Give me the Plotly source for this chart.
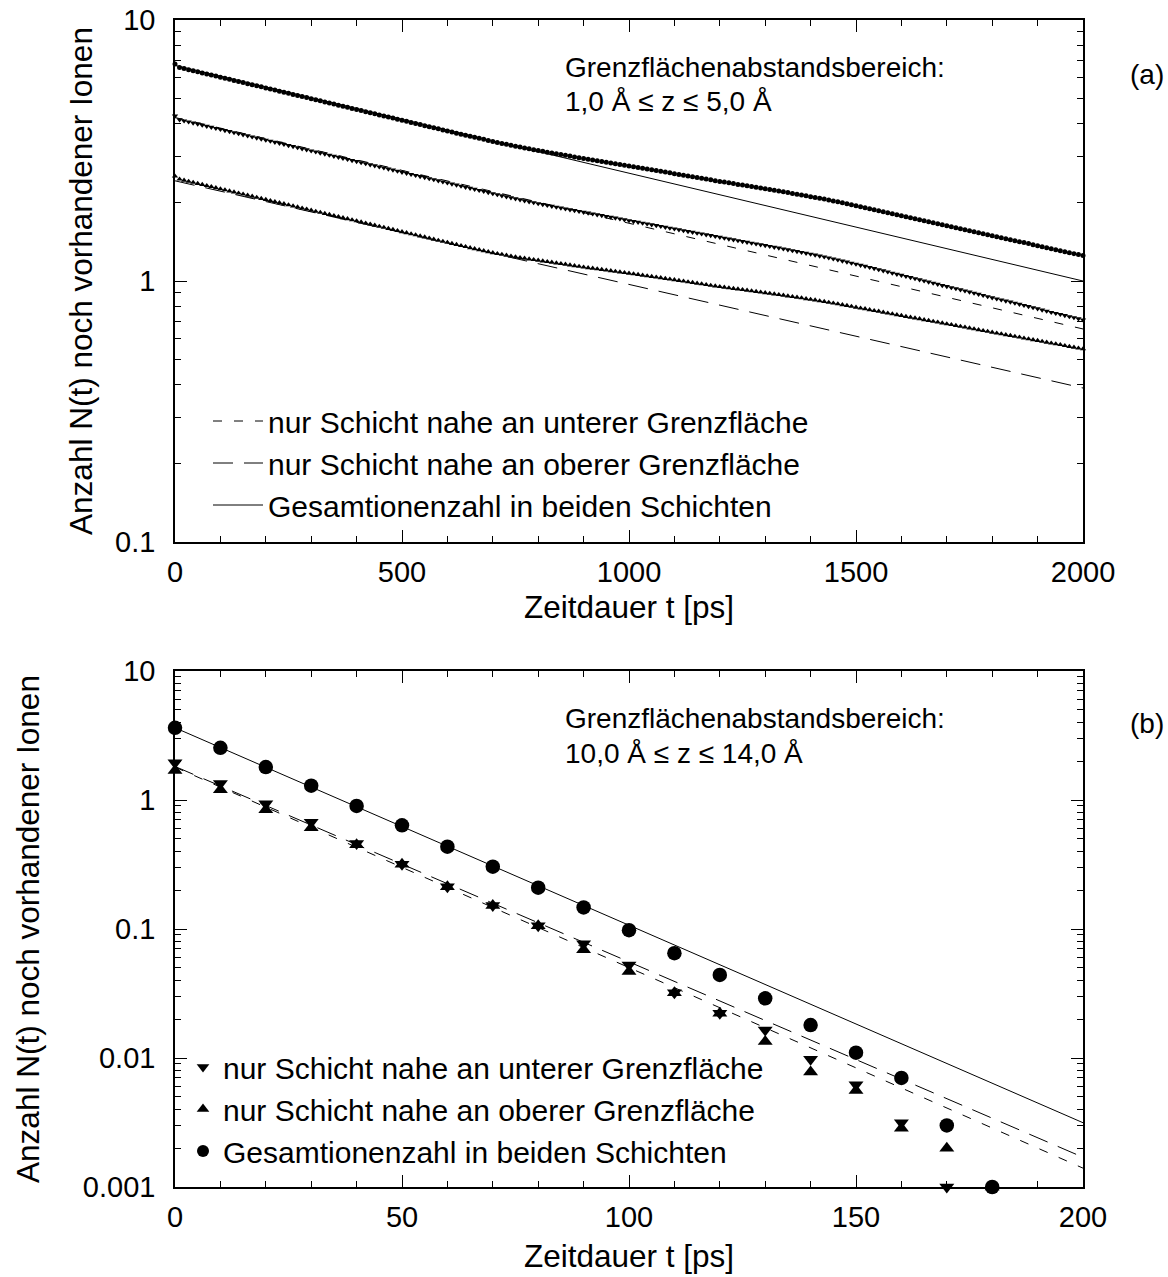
import plotly.graph_objects as go

# ---------------- data: panel (a) ----------------
t_top = list(range(0, 2001, 10))

n_total_top = [
    6.79, 6.577, 6.515, 6.453, 6.392, 6.332, 6.272, 6.213, 6.154, 6.096,
    6.038, 5.981, 5.924, 5.868, 5.813, 5.758, 5.704, 5.650, 5.597, 5.544,
    5.492, 5.440, 5.389, 5.338, 5.287, 5.237, 5.188, 5.139, 5.090, 5.042,
    4.994, 4.947, 4.900, 4.854, 4.808, 4.762, 4.717, 4.672, 4.628, 4.584,
    4.541, 4.498, 4.455, 4.413, 4.371, 4.330, 4.289, 4.248, 4.208, 4.168,
    4.129, 4.090, 4.051, 4.013, 3.975, 3.937, 3.900, 3.863, 3.827, 3.791,
    3.755, 3.719, 3.684, 3.649, 3.614, 3.582, 3.554, 3.521, 3.489, 3.457,
    3.425, 3.396, 3.367, 3.338, 3.310, 3.284, 3.258, 3.232, 3.209, 3.186,
    3.162, 3.139, 3.117, 3.094, 3.073, 3.052, 3.031, 3.010, 2.989, 2.968,
    2.947, 2.928, 2.909, 2.891, 2.872, 2.853, 2.834, 2.815, 2.796, 2.777,
    2.758, 2.739, 2.722, 2.704, 2.686, 2.668, 2.650, 2.632, 2.614, 2.596,
    2.578, 2.561, 2.543, 2.526, 2.509, 2.492, 2.475, 2.458, 2.441, 2.424,
    2.408, 2.393, 2.377, 2.361, 2.345, 2.330, 2.315, 2.300, 2.285, 2.270,
    2.255, 2.240, 2.226, 2.211, 2.196, 2.181, 2.166, 2.151, 2.136, 2.120,
    2.105, 2.090, 2.074, 2.060, 2.043, 2.026, 2.010, 1.993, 1.976, 1.959,
    1.942, 1.925, 1.909, 1.893, 1.876, 1.860, 1.843, 1.826, 1.810, 1.793,
    1.778, 1.762, 1.747, 1.733, 1.718, 1.702, 1.687, 1.672, 1.657, 1.642,
    1.628, 1.614, 1.600, 1.586, 1.573, 1.559, 1.545, 1.531, 1.517, 1.504,
    1.490, 1.477, 1.465, 1.452, 1.440, 1.427, 1.415, 1.403, 1.391, 1.378,
    1.366, 1.354, 1.341, 1.329, 1.318, 1.307, 1.295, 1.284, 1.273, 1.262,
    1.251]

n_lower_top = [
    4.29, 4.149, 4.110, 4.071, 4.033, 3.995, 3.957, 3.920, 3.883, 3.847,
    3.811, 3.775, 3.740, 3.705, 3.670, 3.636, 3.602, 3.568, 3.534, 3.501,
    3.468, 3.435, 3.403, 3.371, 3.339, 3.308, 3.277, 3.246, 3.215, 3.185,
    3.155, 3.125, 3.096, 3.067, 3.038, 3.009, 2.981, 2.953, 2.925, 2.898,
    2.871, 2.844, 2.817, 2.791, 2.765, 2.739, 2.713, 2.688, 2.663, 2.638,
    2.613, 2.588, 2.564, 2.540, 2.516, 2.492, 2.469, 2.446, 2.423, 2.400,
    2.377, 2.355, 2.333, 2.311, 2.289, 2.268, 2.247, 2.226, 2.205, 2.184,
    2.163, 2.143, 2.123, 2.104, 2.085, 2.067, 2.049, 2.031, 2.014, 1.998,
    1.981, 1.965, 1.950, 1.934, 1.920, 1.905, 1.891, 1.877, 1.863, 1.849,
    1.835, 1.822, 1.809, 1.796, 1.783, 1.770, 1.757, 1.744, 1.731, 1.718,
    1.705, 1.692, 1.680, 1.668, 1.656, 1.644, 1.632, 1.620, 1.608, 1.596,
    1.584, 1.572, 1.560, 1.549, 1.538, 1.527, 1.516, 1.505, 1.494, 1.483,
    1.472, 1.461, 1.450, 1.439, 1.428, 1.418, 1.408, 1.398, 1.388, 1.378,
    1.368, 1.358, 1.348, 1.338, 1.328, 1.318, 1.308, 1.298, 1.288, 1.278,
    1.268, 1.258, 1.248, 1.238, 1.227, 1.216, 1.205, 1.194, 1.183, 1.172,
    1.161, 1.150, 1.139, 1.128, 1.117, 1.106, 1.095, 1.084, 1.073, 1.062,
    1.052, 1.042, 1.032, 1.022, 1.012, 1.002, 0.992, 0.982, 0.972, 0.962,
    0.953, 0.944, 0.935, 0.926, 0.917, 0.908, 0.899, 0.890, 0.881, 0.872,
    0.863, 0.855, 0.847, 0.839, 0.831, 0.823, 0.815, 0.807, 0.799, 0.791,
    0.783, 0.775, 0.767, 0.759, 0.752, 0.745, 0.738, 0.731, 0.724, 0.717,
    0.710]

n_upper_top = [
    2.52, 2.454, 2.431, 2.408, 2.385, 2.363, 2.341, 2.319, 2.297, 2.275,
    2.254, 2.233, 2.212, 2.191, 2.170, 2.150, 2.130, 2.110, 2.090, 2.070,
    2.051, 2.032, 2.013, 1.994, 1.975, 1.956, 1.938, 1.920, 1.902, 1.884,
    1.866, 1.848, 1.831, 1.814, 1.797, 1.780, 1.763, 1.746, 1.730, 1.714,
    1.698, 1.682, 1.666, 1.650, 1.634, 1.619, 1.604, 1.589, 1.574, 1.559,
    1.544, 1.529, 1.515, 1.501, 1.487, 1.473, 1.459, 1.445, 1.431, 1.418,
    1.405, 1.392, 1.379, 1.366, 1.353, 1.340, 1.328, 1.316, 1.305, 1.294,
    1.283, 1.273, 1.264, 1.254, 1.245, 1.237, 1.229, 1.221, 1.214, 1.207,
    1.200, 1.193, 1.186, 1.179, 1.172, 1.165, 1.158, 1.151, 1.144, 1.137,
    1.130, 1.124, 1.118, 1.112, 1.106, 1.100, 1.094, 1.088, 1.082, 1.076,
    1.070, 1.064, 1.058, 1.052, 1.046, 1.040, 1.034, 1.028, 1.022, 1.016,
    1.010, 1.004, 0.998, 0.992, 0.986, 0.980, 0.974, 0.968, 0.962, 0.956,
    0.951, 0.946, 0.941, 0.936, 0.931, 0.926, 0.921, 0.916, 0.911, 0.906,
    0.901, 0.896, 0.891, 0.886, 0.881, 0.876, 0.871, 0.866, 0.861, 0.855,
    0.850, 0.845, 0.839, 0.834, 0.828, 0.822, 0.817, 0.811, 0.805, 0.799,
    0.793, 0.787, 0.782, 0.776, 0.770, 0.765, 0.759, 0.753, 0.748, 0.742,
    0.737, 0.731, 0.726, 0.721, 0.716, 0.710, 0.705, 0.700, 0.695, 0.690,
    0.685, 0.680, 0.675, 0.670, 0.665, 0.660, 0.655, 0.650, 0.645, 0.641,
    0.636, 0.631, 0.627, 0.622, 0.618, 0.613, 0.609, 0.604, 0.600, 0.595,
    0.591, 0.587, 0.582, 0.578, 0.574, 0.570, 0.565, 0.561, 0.557, 0.553,
    0.549]

fit_t_top = [0, 2000]
fit_total_top = [6.70, 1.00]
fit_lower_top = [4.23, 0.655]
fit_upper_top = [2.42, 0.389]

# ---------------- data: panel (b) ----------------
t_bot = list(range(0, 181, 10))
n_total_bot = [3.63, 2.54, 1.80, 1.29, 0.90, 0.637, 0.435, 0.304, 0.209, 0.147,
               0.098, 0.065, 0.044, 0.029, 0.018, 0.011, 0.007, 0.003, 0.001]
n_lower_bot = [1.94, 1.345, 0.936, 0.672, 0.46, 0.318, 0.213, 0.152, 0.106, 0.077,
               0.0525, 0.032, 0.0222, 0.0165, 0.0098, 0.0062, 0.00315, 0.001, None]
n_upper_bot = [1.69, 1.20, 0.84, 0.61, 0.45, 0.318, 0.213, 0.152, 0.106, 0.069,
               0.0468, 0.032, 0.0222, 0.0134, 0.0078, 0.0056, 0.00285, 0.002, 0.001]

fit_t_bot = [0, 200]
fit_total_bot = [3.63, 0.00315]
fit_lower_bot = [1.80, 0.0014]
fit_upper_bot = [1.82, 0.0017]

label_lower = "nur Schicht nahe an unterer Grenzfläche"
label_upper = "nur Schicht nahe an oberer Grenzfläche"
label_total = "Gesamtionenzahl in beiden Schichten"

# ---------------- geometry helpers ----------------
W, H = 1168, 1277
ML, MR, MT, MB = 175, 85, 20, 90
PW, PH = W - ML - MR, H - MT - MB


def X(px):
    return (px - ML) / PW


def Y(py):
    return (H - MB - py) / PH


FONT = "Liberation Sans, Arial, Helvetica, sans-serif"
f_tick = dict(family=FONT, size=29, color="black")
f_title = dict(family=FONT, size=31.5, color="black")
f_leg = dict(family=FONT, size=30, color="black")
f_ann = dict(family=FONT, size=28, color="black")
SHORT = "9px,12px"
LONG = "20px,11px"

fig = go.Figure()

# panel (a) fit lines (legend)
fig.add_trace(go.Scatter(x=fit_t_top, y=fit_lower_top, mode="lines", name=label_lower,
                         line=dict(color="black", width=1, dash=SHORT),
                         legend="legend", xaxis="x", yaxis="y"))
fig.add_trace(go.Scatter(x=fit_t_top, y=fit_upper_top, mode="lines", name=label_upper,
                         line=dict(color="black", width=1, dash=LONG),
                         legend="legend", xaxis="x", yaxis="y"))
fig.add_trace(go.Scatter(x=fit_t_top, y=fit_total_top, mode="lines", name=label_total,
                         line=dict(color="black", width=1),
                         legend="legend", xaxis="x", yaxis="y"))

# panel (a) data markers
fig.add_trace(go.Scatter(x=t_top, y=n_lower_top, mode="markers", showlegend=False,
                         marker=dict(symbol="triangle-down", size=5.5, color="black"),
                         cliponaxis=False, xaxis="x", yaxis="y"))
fig.add_trace(go.Scatter(x=t_top, y=n_upper_top, mode="markers", showlegend=False,
                         marker=dict(symbol="triangle-up", size=5.5, color="black"),
                         cliponaxis=False, xaxis="x", yaxis="y"))
fig.add_trace(go.Scatter(x=t_top, y=n_total_top, mode="markers", showlegend=False,
                         marker=dict(symbol="circle", size=5, color="black"),
                         cliponaxis=False, xaxis="x", yaxis="y"))

# panel (b) fit lines
fig.add_trace(go.Scatter(x=fit_t_bot, y=fit_lower_bot, mode="lines", showlegend=False,
                         line=dict(color="black", width=1, dash=SHORT), xaxis="x2", yaxis="y2"))
fig.add_trace(go.Scatter(x=fit_t_bot, y=fit_upper_bot, mode="lines", showlegend=False,
                         line=dict(color="black", width=1, dash=LONG), xaxis="x2", yaxis="y2"))
fig.add_trace(go.Scatter(x=fit_t_bot, y=fit_total_bot, mode="lines", showlegend=False,
                         line=dict(color="black", width=1), xaxis="x2", yaxis="y2"))

# panel (b) data markers
fig.add_trace(go.Scatter(x=t_bot, y=n_lower_bot, mode="markers", showlegend=False,
                         marker=dict(symbol="triangle-down", size=13, color="black"),
                         cliponaxis=False, xaxis="x2", yaxis="y2"))
fig.add_trace(go.Scatter(x=t_bot, y=n_upper_bot, mode="markers", showlegend=False,
                         marker=dict(symbol="triangle-up", size=13, color="black"),
                         cliponaxis=False, xaxis="x2", yaxis="y2"))
fig.add_trace(go.Scatter(x=t_bot, y=n_total_bot, mode="markers", showlegend=False,
                         marker=dict(symbol="circle", size=14.5, color="black"),
                         cliponaxis=False, xaxis="x2", yaxis="y2"))

# panel (b) legend entries (smaller symbols, as in the original key)
fig.add_trace(go.Scatter(x=[None], y=[None], mode="markers", name=label_lower,
                         marker=dict(symbol="triangle-down", size=11, color="black"),
                         legend="legend2", xaxis="x2", yaxis="y2"))
fig.add_trace(go.Scatter(x=[None], y=[None], mode="markers", name=label_upper,
                         marker=dict(symbol="triangle-up", size=11, color="black"),
                         legend="legend2", xaxis="x2", yaxis="y2"))
fig.add_trace(go.Scatter(x=[None], y=[None], mode="markers", name=label_total,
                         marker=dict(symbol="circle", size=12, color="black"),
                         legend="legend2", xaxis="x2", yaxis="y2"))

axis_common = dict(showline=True, linecolor="black", linewidth=1.5, mirror="ticks",
                   ticks="inside", ticklen=12, tickwidth=1, tickcolor="black",
                   showgrid=False, zeroline=False, tickfont=f_tick, automargin=False)

minor_log_top = [0.2, 0.3, 0.4, 0.5, 0.6, 0.7, 0.8, 0.9, 2, 3, 4, 5, 6, 7, 8, 9]
minor_log_bot = [m * d for d in (0.001, 0.01, 0.1, 1) for m in (2, 3, 4, 5, 6, 7, 8, 9)]

fig.update_layout(
    width=W, height=H,
    margin=dict(l=ML, r=MR, t=MT, b=MB, autoexpand=False),
    paper_bgcolor="white", plot_bgcolor="white",
    font=f_tick,
    xaxis=dict(axis_common, domain=[0, 1], anchor="y", range=[0, 2000],
               tickmode="linear", tick0=0, dtick=500, ticklabelstandoff=3,
               minor=dict(ticks="inside", ticklen=6, tickwidth=1, tickcolor="black", dtick=100),
               title=dict(text="Zeitdauer t [ps]", font=f_title, standoff=9)),
    yaxis=dict(axis_common, domain=[Y(542), 1], anchor="x", type="log", range=[-1, 1],
               tickmode="array", tickvals=[0.1, 1, 10], ticktext=["0.1", "1", "10"],
               ticklabelstandoff=12,
               minor=dict(ticks="inside", ticklen=6, tickwidth=1, tickcolor="black",
                          tickmode="array", tickvals=minor_log_top),
               title=dict(text="Anzahl N(t) noch vorhandener Ionen", font=f_title, standoff=13)),
    xaxis2=dict(axis_common, domain=[0, 1], anchor="y2", range=[0, 200],
                tickmode="linear", tick0=0, dtick=50, ticklabelstandoff=3,
                minor=dict(ticks="inside", ticklen=6, tickwidth=1, tickcolor="black", dtick=10),
                title=dict(text="Zeitdauer t [ps]", font=f_title, standoff=13)),
    yaxis2=dict(axis_common, domain=[0, Y(671)], anchor="x2", type="log", range=[-3, 1],
                tickmode="array", tickvals=[0.001, 0.01, 0.1, 1, 10],
                ticktext=["0.001", "0.01", "0.1", "1", "10"],
                ticklabelstandoff=12,
                minor=dict(ticks="inside", ticklen=6, tickwidth=1, tickcolor="black",
                           tickmode="array", tickvals=minor_log_bot),
                title=dict(text="Anzahl N(t) noch vorhandener Ionen", font=f_title, standoff=34)),
    legend=dict(x=X(208), y=Y(395), xanchor="left", yanchor="top", font=f_leg,
                bgcolor="rgba(0,0,0,0)", borderwidth=0, itemwidth=50,
                traceorder="normal"),
    legend2=dict(x=X(183), y=Y(1041), xanchor="left", yanchor="top", font=f_leg,
                 bgcolor="rgba(0,0,0,0)", borderwidth=0,
                 traceorder="normal"),
    annotations=[
        dict(text="Grenzflächenabstandsbereich:", x=X(563), y=Y(67), xref="paper", yref="paper",
             xanchor="left", yanchor="middle", showarrow=False, font=f_ann),
        dict(text="1,0 Å ≤ z ≤ 5,0 Å", x=X(563), y=Y(102), xref="paper", yref="paper",
             xanchor="left", yanchor="middle", showarrow=False, font=f_ann),
        dict(text="(a)", x=X(1128), y=Y(74), xref="paper", yref="paper",
             xanchor="left", yanchor="middle", showarrow=False, font=f_ann),
        dict(text="Grenzflächenabstandsbereich:", x=X(563), y=Y(718), xref="paper", yref="paper",
             xanchor="left", yanchor="middle", showarrow=False, font=f_ann),
        dict(text="10,0 Å ≤ z ≤ 14,0 Å", x=X(563), y=Y(753), xref="paper", yref="paper",
             xanchor="left", yanchor="middle", showarrow=False, font=f_ann),
        dict(text="(b)", x=X(1128), y=Y(723), xref="paper", yref="paper",
             xanchor="left", yanchor="middle", showarrow=False, font=f_ann),
    ],
)

fig.write_html("out.html")
